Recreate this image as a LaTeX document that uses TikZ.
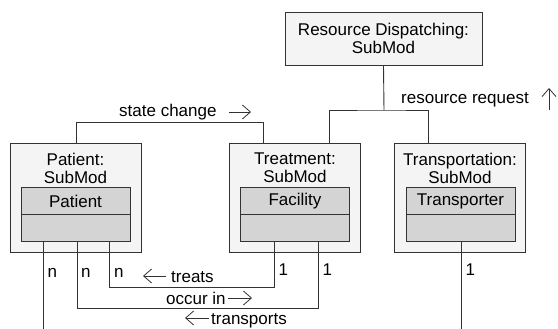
\documentclass[tikz,border=0pt]{standalone}
\usepackage{fontspec}
\setmainfont{Liberation Sans}
\usetikzlibrary{arrows.meta}
\definecolor{outerfill}{gray}{0.955}
\definecolor{innerfill}{gray}{0.83}
\definecolor{ink}{gray}{0.2}
\tikzset{
  every node/.style={font=\fontsize{17}{18}\selectfont, inner sep=0pt, text=black},
  outerbox/.style={draw=ink, fill=outerfill, line width=0.9pt, minimum width=131pt, minimum height=109pt},
  innerbox/.style={draw=ink, fill=innerfill, line width=0.9pt, minimum width=109pt, minimum height=54pt},
  title/.style={align=center},
  conn/.style={draw=ink, line width=0.9pt},
  lbl/.style={anchor=base west},
  dirarrow/.style={draw=ink, line width=0.8pt, -{Straight Barb[length=8pt,width=14pt]}}
}
\begin{document}
\begin{tikzpicture}[x=1pt, y=-1pt]
\useasboundingbox (0,0) rectangle (558,329);

% dispatching submodule
\node[draw=ink, fill=outerfill, line width=0.9pt, minimum width=197pt, minimum height=53pt,
      title] (rd) at (383.5,38.5) {Resource Dispatching:\\SubMod};

% submodule frames
\node[outerbox] (pat) at (75.5,197.5) {};
\node[outerbox] (treat) at (295,197.5) {};
\node[outerbox] (trans) at (460,197.5) {};

\node[title] (patt) at (75.5,168) {Patient:\\SubMod};
\node[title] (treatt) at (295,168) {Treatment:\\SubMod};
\node[title] (transt) at (460,168) {Transportation:\\SubMod};

% class boxes
\node[innerbox] (pin) at (75.5,214) {};
\node[innerbox] (fin) at (295,214) {};
\node[innerbox] (tin) at (460.5,214) {};
\foreach \c in {pin,fin,tin} \draw[conn] (\c.west) -- (\c.east);
\node (pinl) at (75.5,201) {Patient};
\node (finl) at (295,201) {Facility};
\node (tinl) at (460.5,201) {Transporter};

% resource request
\coordinate (rj) at (384,110);
\draw[conn] (rd.south) -- (rj);
\draw[conn] ([xshift=34pt]treat.north) |- (rj) -| ([xshift=-32pt]trans.north);
\node[lbl] (rrl) at (401,104) {resource request};
\coordinate (rra) at (549,110);
\coordinate (rrb) at (549,88);
\draw[dirarrow] (rra) -- (rrb);

% state change
\draw[conn] ([xshift=0.5pt]pat.north) -- ++(0,-20) -| ([xshift=-32pt]treat.north);
\node[lbl] (scl) at (119,117) {state change};
\coordinate (sca) at (229,112);
\coordinate (scb) at (251,112);
\draw[dirarrow] (sca) -- (scb);

% associations
\coordinate (pend) at (43,329);
\coordinate (tend) at (461,329);
\draw[conn] ([xshift=-32.5pt]pin.south) -- (pend);
\draw[conn] ([xshift=0.5pt]tin.south) -- (tend);
\draw[conn] ([xshift=33.5pt]pin.south) -- ++(0,46) -| ([xshift=-21pt]fin.south);
\draw[conn] ([xshift=1.5pt]pin.south) -- ++(0,67) -| ([xshift=23pt]fin.south);

% multiplicities
\node[lbl] (n1) at (47.5,277) {n};
\node[lbl] (n2) at (81,277) {n};
\node[lbl] (n3) at (114,277) {n};
\node[lbl] (o1) at (278.5,276) {1};
\node[lbl] (o2) at (322.5,276) {1};
\node[lbl] (o3) at (465.5,275) {1};

% association names
\coordinate (tra) at (166,276);
\coordinate (trb) at (143,276);
\draw[dirarrow] (tra) -- (trb);
\node[lbl] (trl) at (171,282) {treats};

\node[lbl] (ocl) at (166,304) {occur in};
\coordinate (oca) at (228,298);
\coordinate (ocb) at (252,298);
\draw[dirarrow] (oca) -- (ocb);

\coordinate (tpa) at (209,318);
\coordinate (tpb) at (185,318);
\draw[dirarrow] (tpa) -- (tpb);
\node[lbl] (tpl) at (211,324) {transports};
\end{tikzpicture}
\end{document}
